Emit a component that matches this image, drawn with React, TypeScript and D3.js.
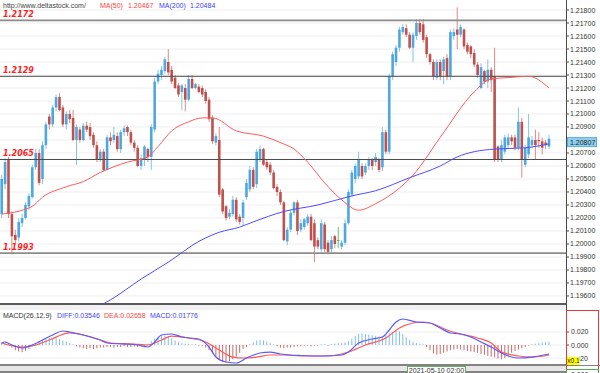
import * as d3 from 'd3'

// EUR/USD candles (index = bar number, left to right)
const opens = [
  1.2023, 1.2046, 1.2065, 1.2023, 1.2007, 1.2005, 1.2016, 1.2020, 1.2029, 1.2036,
  1.2059, 1.2070, 1.2050, 1.2076, 1.2098, 1.2092, 1.2105, 1.2113, 1.2105, 1.2092,
  1.2100, 1.2097, 1.2080, 1.2088, 1.2080, 1.2091, 1.2090, 1.2084, 1.2076, 1.2065,
  1.2071, 1.2057, 1.2082, 1.2080, 1.2083, 1.2073, 1.2086, 1.2090, 1.2086, 1.2078,
  1.2074, 1.2060, 1.2065, 1.2073, 1.2067, 1.2088, 1.2125, 1.2130, 1.2133, 1.2140,
  1.2134, 1.2128, 1.2122, 1.2117, 1.2120, 1.2111, 1.2127, 1.2120, 1.2121, 1.2120,
  1.2117, 1.2111, 1.2097, 1.2078, 1.2080, 1.2042, 1.2029, 1.2021, 1.2023, 1.2034,
  1.2021, 1.2020, 1.2036, 1.2042, 1.2057, 1.2046, 1.2065, 1.2073, 1.2063, 1.2061,
  1.2055, 1.2044, 1.2040, 1.2032, 1.2002, 1.2011, 1.2024, 1.2032, 1.2011, 1.2013,
  1.2016, 1.2021, 1.2016, 1.2003, 1.1996, 1.2015, 1.2001, 1.1996, 1.2006, 1.2003,
  1.1998, 1.2001, 1.2016, 1.2038, 1.2050, 1.2052, 1.2060, 1.2055, 1.2060, 1.2065,
  1.2063, 1.2065, 1.2059, 1.2086, 1.2071, 1.2129, 1.2140, 1.2151, 1.2163, 1.2166,
  1.2161, 1.2151, 1.2160, 1.2170, 1.2169, 1.2159, 1.2146, 1.2140, 1.2128, 1.2140,
  1.2133, 1.2143, 1.2129, 1.2160, 1.2165, 1.2161, 1.2165, 1.2153, 1.2152, 1.2147,
  1.2138, 1.2120, 1.2133, 1.2125, 1.2134, 1.2129, 1.2075, 1.2065, 1.2071, 1.2076,
  1.2082, 1.2082, 1.2074, 1.2094, 1.2061, 1.2069, 1.2076, 1.2080, 1.2080, 1.2079,
  1.2078, 1.2075,
]
const highs = [
  1.2053, 1.2066, 1.2067, 1.2025, 1.2011, 1.2020, 1.2023, 1.2032, 1.2039, 1.2061,
  1.2073, 1.2073, 1.2079, 1.2094, 1.2100, 1.2107, 1.2115, 1.2116, 1.2107, 1.2102,
  1.2103, 1.2103, 1.2092, 1.2090, 1.2093, 1.2094, 1.2093, 1.2086, 1.2079, 1.2073,
  1.2073, 1.2084, 1.2086, 1.2090, 1.2086, 1.2088, 1.2091, 1.2091, 1.2088, 1.2080,
  1.2076, 1.2069, 1.2076, 1.2074, 1.2092, 1.2128, 1.2134, 1.2137, 1.2144, 1.2150,
  1.2137, 1.2130, 1.2124, 1.2123, 1.2123, 1.2130, 1.2130, 1.2124, 1.2123, 1.2122,
  1.2119, 1.2113, 1.2099, 1.2085, 1.2090, 1.2043, 1.2030, 1.2027, 1.2037, 1.2036,
  1.2023, 1.2034, 1.2050, 1.2060, 1.2059, 1.2073, 1.2076, 1.2074, 1.2065, 1.2063,
  1.2057, 1.2046, 1.2042, 1.2033, 1.2013, 1.2026, 1.2033, 1.2034, 1.2019, 1.2020,
  1.2023, 1.2023, 1.2019, 1.2005, 1.2019, 1.2017, 1.2003, 1.2006, 1.2007, 1.2013,
  1.2003, 1.2019, 1.2042, 1.2057, 1.2062, 1.2071, 1.2062, 1.2062, 1.2067, 1.2066,
  1.2070, 1.2066, 1.2090, 1.2088, 1.2131, 1.2148, 1.2153, 1.2167, 1.2169, 1.2169,
  1.2163, 1.2163, 1.2173, 1.2173, 1.2173, 1.2161, 1.2147, 1.2142, 1.2142, 1.2142,
  1.2144, 1.2146, 1.2165, 1.2166, 1.2182, 1.2169, 1.2166, 1.2155, 1.2153, 1.2150,
  1.2140, 1.2139, 1.2134, 1.2142, 1.2136, 1.2151, 1.2076, 1.2080, 1.2084, 1.2085,
  1.2084, 1.2084, 1.2105, 1.2097, 1.2076, 1.2100, 1.2083, 1.2088, 1.2086, 1.2082,
  1.2080, 1.2084,
]
const lows = [
  1.2020, 1.2042, 1.2020, 1.1992, 1.2000, 1.2002, 1.2013, 1.2019, 1.2026, 1.2035,
  1.2057, 1.2045, 1.2046, 1.2073, 1.2088, 1.2090, 1.2102, 1.2102, 1.2090, 1.2088,
  1.2093, 1.2079, 1.2061, 1.2078, 1.2079, 1.2086, 1.2080, 1.2074, 1.2063, 1.2063,
  1.2056, 1.2056, 1.2076, 1.2078, 1.2071, 1.2070, 1.2083, 1.2083, 1.2076, 1.2071,
  1.2059, 1.2057, 1.2060, 1.2063, 1.2057, 1.2086, 1.2123, 1.2126, 1.2131, 1.2130,
  1.2123, 1.2119, 1.2113, 1.2103, 1.2102, 1.2110, 1.2119, 1.2119, 1.2116, 1.2113,
  1.2108, 1.2094, 1.2077, 1.2076, 1.2036, 1.2023, 1.2018, 1.2019, 1.2021, 1.2017,
  1.2015, 1.2014, 1.2034, 1.2040, 1.2042, 1.2043, 1.2063, 1.2060, 1.2057, 1.2053,
  1.2042, 1.2037, 1.2030, 1.2002, 1.1999, 1.2009, 1.2022, 1.2007, 1.2009, 1.2011,
  1.2014, 1.2002, 1.1986, 1.1996, 1.1994, 1.1994, 1.1992, 1.1993, 1.1997, 1.1997,
  1.1996, 1.1999, 1.2015, 1.2036, 1.2047, 1.2050, 1.2050, 1.2053, 1.2057, 1.2057,
  1.2060, 1.2055, 1.2056, 1.2069, 1.2069, 1.2126, 1.2137, 1.2148, 1.2161, 1.2159,
  1.2150, 1.2140, 1.2157, 1.2161, 1.2155, 1.2143, 1.2138, 1.2126, 1.2126, 1.2126,
  1.2123, 1.2126, 1.2126, 1.2157, 1.2150, 1.2159, 1.2150, 1.2146, 1.2143, 1.2136,
  1.2128, 1.2119, 1.2123, 1.2120, 1.2117, 1.2063, 1.2063, 1.2063, 1.2069, 1.2074,
  1.2076, 1.2072, 1.2072, 1.2051, 1.2059, 1.2066, 1.2074, 1.2065, 1.2074, 1.2069,
  1.2073, 1.2073,
]
const closes = [
  1.2050, 1.2063, 1.2023, 1.2006, 1.2003, 1.2017, 1.2020, 1.2030, 1.2037, 1.2059,
  1.2070, 1.2047, 1.2076, 1.2092, 1.2092, 1.2105, 1.2113, 1.2103, 1.2092, 1.2100,
  1.2096, 1.2080, 1.2090, 1.2080, 1.2091, 1.2088, 1.2083, 1.2076, 1.2065, 1.2071,
  1.2057, 1.2082, 1.2079, 1.2084, 1.2073, 1.2086, 1.2089, 1.2086, 1.2078, 1.2074,
  1.2060, 1.2066, 1.2075, 1.2067, 1.2090, 1.2125, 1.2131, 1.2134, 1.2142, 1.2132,
  1.2125, 1.2120, 1.2115, 1.2122, 1.2111, 1.2127, 1.2120, 1.2123, 1.2117, 1.2115,
  1.2110, 1.2096, 1.2079, 1.2083, 1.2038, 1.2025, 1.2020, 1.2024, 1.2034, 1.2019,
  1.2017, 1.2032, 1.2047, 1.2057, 1.2044, 1.2071, 1.2073, 1.2061, 1.2059, 1.2055,
  1.2043, 1.2040, 1.2032, 1.2003, 1.2011, 1.2024, 1.2032, 1.2010, 1.2016, 1.2019,
  1.2021, 1.2003, 1.1998, 1.1998, 1.2016, 1.1996, 1.1994, 1.2003, 1.2000, 1.2003,
  1.2001, 1.2016, 1.2040, 1.2055, 1.2060, 1.2065, 1.2052, 1.2060, 1.2065, 1.2060,
  1.2067, 1.2057, 1.2086, 1.2071, 1.2129, 1.2146, 1.2151, 1.2165, 1.2167, 1.2161,
  1.2151, 1.2161, 1.2170, 1.2163, 1.2157, 1.2146, 1.2140, 1.2129, 1.2140, 1.2129,
  1.2142, 1.2129, 1.2163, 1.2163, 1.2161, 1.2167, 1.2152, 1.2148, 1.2146, 1.2138,
  1.2130, 1.2136, 1.2125, 1.2134, 1.2126, 1.2065, 1.2065, 1.2076, 1.2082, 1.2082,
  1.2079, 1.2074, 1.2094, 1.2065, 1.2074, 1.2082, 1.2080, 1.2076, 1.2079, 1.2074,
  1.2076, 1.2081,
]

// moving averages, sampled along the curves
const ma50At = [0, 9, 12, 19, 24, 29, 37, 43, 46, 50, 55, 59, 62, 69, 77, 82, 86, 90, 95, 100, 105, 110, 117, 121, 129, 139, 144, 149, 155, 161]
const ma50 = [1.2023, 1.2029, 1.2036, 1.2044, 1.2048, 1.2055, 1.2063, 1.2067, 1.2075, 1.2087, 1.2094, 1.2097, 1.2097, 1.2087, 1.2083, 1.2078, 1.2073, 1.2063, 1.2047, 1.2034, 1.2026, 1.2031, 1.2043, 1.2053, 1.2082, 1.2117, 1.2127, 1.2128, 1.2129, 1.2120]
const ma200At = [27, 32, 41, 49, 58, 64, 70, 74, 83, 93, 103, 110, 120, 129, 134, 139, 145, 154, 161]
const ma200 = [1.1950, 1.1957, 1.1973, 1.1986, 1.2002, 1.2009, 1.2013, 1.2017, 1.2025, 1.2030, 1.2037, 1.2041, 1.2051, 1.2060, 1.2067, 1.2071, 1.2073, 1.2074, 1.2077]

// MACD panel
const diffAt = [0, 1, 3, 6, 9, 12, 15, 18, 20, 24, 29, 31, 36, 40, 43, 45, 47, 50, 53, 58, 61, 63, 66, 69, 72, 76, 79, 82, 85, 88, 94, 100, 102, 105, 109, 112, 114, 116, 118, 122, 126, 129, 132, 135, 138, 141, 144, 147, 150, 152, 156, 161]
const diff = [0.0031, 0.0046, 0, -0.0046, 0, 0.0077, 0.0154, 0.0215, 0.0200, 0.0154, 0.0077, 0.0031, 0.0015, 0, -0.0031, 0.0046, 0.0154, 0.0169, 0.0123, 0.0092, -0.0031, -0.0185, -0.0261, -0.0277, -0.0200, -0.0123, -0.0108, -0.0138, -0.0154, -0.0161, -0.0169, -0.0154, -0.0108, 0.0031, 0.0092, 0.0123, 0.0231, 0.0354, 0.0400, 0.0354, 0.0338, 0.0261, 0.0185, 0.0169, 0.0123, 0.0046, -0.0031, -0.0123, -0.0185, -0.0200, -0.0185, -0.0138]
const deaAt = [0, 2, 6, 9, 14, 20, 24, 29, 32, 39, 43, 47, 50, 55, 60, 64, 68, 71, 75, 79, 83, 88, 96, 102, 107, 113, 117, 121, 124, 127, 131, 135, 140, 144, 147, 152, 156, 161]
const dea = [0.0031, 0, -0.0031, -0.0015, 0.0077, 0.0185, 0.0154, 0.0077, 0.0031, 0.0015, 0, 0.0077, 0.0138, 0.0108, 0.0046, -0.0077, -0.0185, -0.0200, -0.0185, -0.0154, -0.0154, -0.0169, -0.0169, -0.0108, 0, 0.0108, 0.0261, 0.0338, 0.0354, 0.0323, 0.0231, 0.0169, 0.0108, 0.0031, -0.0108, -0.0169, -0.0185, -0.0154]
const macdHist = [
  0.004, 0.003, 0.001, -0.004, -0.008, -0.010, -0.011, -0.009, -0.006, -0.002,
  0.003, 0.006, 0.008, 0.010, 0.011, 0.010, 0.011, 0.009, 0.007, 0.005,
  0.003, 0.001, -0.002, -0.004, -0.005, -0.006, -0.005, -0.006, -0.005, -0.004,
  -0.004, -0.003, -0.003, -0.004, -0.003, -0.003, -0.002, -0.003, -0.003, -0.002,
  -0.003, -0.002, -0.001, 0.002, 0.006, 0.010, 0.013, 0.015, 0.014, 0.012,
  0.010, 0.007, 0.005, 0.003, 0.002, 0.002, 0.001, 0.001, -0.001, -0.002,
  -0.004, -0.008, -0.013, -0.018, -0.022, -0.026, -0.027, -0.025, -0.022, -0.018,
  -0.012, -0.006, -0.003, 0.001, 0.004, 0.007, 0.008, 0.007, 0.005, 0.003,
  0.001, -0.002, -0.004, -0.005, -0.004, -0.004, -0.003, -0.002, -0.002, -0.001,
  -0.001, -0.002, -0.001, -0.001, 0.001, 0.001, -0.001, 0.001, 0.002, 0.003,
  0.003, 0.004, 0.006, 0.010, 0.014, 0.017, 0.018, 0.017, 0.016, 0.015,
  0.014, 0.013, 0.014, 0.016, 0.018, 0.020, 0.022, 0.021, 0.017, 0.012,
  0.008, 0.005, 0.003, 0.002, 0.001, -0.003, -0.008, -0.013, -0.015, -0.014,
  -0.012, -0.010, -0.008, -0.007, -0.006, -0.007, -0.008, -0.009, -0.010, -0.011,
  -0.012, -0.014, -0.015, -0.017, -0.018, -0.019, -0.021, -0.022, -0.020, -0.016,
  -0.012, -0.009, -0.007, -0.005, -0.003, -0.001, 0.001, 0.002, 0.003, 0.004,
  0.004, 0.005,
]

const levels = [1.2172, 1.2129, 1.2065, 1.1993]
const heavyLevels = [1.2172, 1.1993]
const priceTicks = [
  1.218, 1.217, 1.216, 1.215, 1.214, 1.213, 1.212, 1.211, 1.21, 1.209, 1.208, 1.207,
  1.206, 1.205, 1.204, 1.203, 1.202, 1.201, 1.2, 1.199, 1.198, 1.197, 1.196,
]
const macdTicks = [0.02, 0, -0.02]
const lastPrice = 1.20807

const FONT = '"Liberation Sans", Arial, sans-serif'

export default function App() {
  const width = 600
  const height = 373
  const plotW = 566
  const mainBottom = 303

  const x = d3.scaleLinear().domain([-0.5, 166]).range([0, plotW])
  const y = d3.scaleLinear().domain([1.19546, 1.21877]).range([mainBottom, 0])
  const ym = d3.scaleLinear().domain([-0.0292, 0.0615]).range([364, 305])

  const priceLine = d3
    .line<[number, number]>()
    .x(d => x(d[0]))
    .y(d => y(d[1]))
    .curve(d3.curveMonotoneX)
  const macdLine = d3
    .line<[number, number]>()
    .x(d => x(d[0]))
    .y(d => ym(d[1]))
    .curve(d3.curveMonotoneX)

  const pairs = (at: number[], vals: number[]) => at.map((a, i) => [a, vals[i]] as [number, number])
  const bodyW = 2.6
  const lastY = y(lastPrice) + 3 // price box sits just under the last close
  // the axis hides the tick label the price box sits on
  const shownTicks = priceTicks.filter(t => Math.abs(y(t) - lastY) > 6)

  return (
    <svg
      width={width}
      height={height}
      style={{ position: 'absolute', left: 0, top: 0 }}
      fontFamily={FONT}
    >
      <defs>
        <clipPath id="main-clip">
          <rect x={0} y={0} width={plotW} height={mainBottom} />
        </clipPath>
        <clipPath id="macd-clip">
          <rect x={0} y={305} width={plotW} height={59} />
        </clipPath>
        <clipPath id="scale-clip">
          <rect x={579.5} y={350} width={20} height={15} />
        </clipPath>
      </defs>
      <rect width={width} height={height} fill="#fff" />

      {/* price grid */}
      {priceTicks.map(t => (
        <line key={t} x1={0} x2={plotW} y1={y(t)} y2={y(t)} stroke="#eeeeee" />
      ))}

      <g clipPath="url(#main-clip)">
        {/* candles */}
        {closes.map((c, i) => {
          const o = opens[i]
          const doji = c === o
          const up = c > o
          const body = doji ? '#5cb85c' : up ? '#4ea8df' : '#c0504d'
          const wick = doji ? '#6cbf6c' : up ? '#86c4ea' : '#d98a87'
          const cx = x(i)
          const top = y(Math.max(o, c))
          const h = Math.max(1, Math.abs(y(o) - y(c)))
          return (
            <g key={i}>
              <line x1={cx} x2={cx} y1={y(highs[i])} y2={y(lows[i])} stroke={wick} strokeWidth={1} />
              <rect x={cx - bodyW / 2} y={top} width={bodyW} height={h} fill={body} />
            </g>
          )
        })}

        {/* support / resistance */}
        {levels.map(l => {
          const heavy = heavyLevels.includes(l)
          return (
            <line
              key={l}
              x1={0}
              x2={plotW}
              y1={y(l)}
              y2={y(l)}
              stroke={heavy ? '#8c8c8c' : '#4a4a4a'}
              strokeWidth={heavy ? 1.6 : 1}
            />
          )
        })}

        {/* moving averages */}
        <path d={priceLine(pairs(ma50At, ma50)) || ''} fill="none" stroke="#ff5a5a" strokeWidth={1} />
        <path d={priceLine(pairs(ma200At, ma200)) || ''} fill="none" stroke="#4c4cff" strokeWidth={1} />
      </g>

      {/* level labels */}
      {levels.map(l => (
        <text
          key={l}
          x={3}
          y={y(l) - 3}
          fontFamily='"DejaVu Sans", Verdana, sans-serif'
          fontSize={8}
          fontWeight="bold"
          fontStyle="italic"
          fill="#ff1f1f"
        >
          {l.toFixed(4)}
        </text>
      ))}

      {/* header */}
      <text x={3} y={7.5} fontSize={7} fill="#444">http://www.deltastock.com/</text>
      <text x={100} y={7.5} fontSize={7} fill="#ff4040">MA(50)</text>
      <text x={128} y={7.5} fontSize={7} fill="#ff4040">1.20467</text>
      <text x={159} y={7.5} fontSize={7} fill="#4040ff">MA(200)</text>
      <text x={190} y={7.5} fontSize={7} fill="#4040ff">1.20484</text>

      {/* panel separator */}
      <line x1={0} x2={plotW} y1={304} y2={304} stroke="#5a5a5a" strokeWidth={2} />
      <rect x={0} y={305} width={plotW} height={5} fill="#f1f1f1" />

      {/* MACD panel */}
      {macdTicks.map(t => (
        <line key={t} x1={0} x2={plotW} y1={ym(t)} y2={ym(t)} stroke="#eeeeee" />
      ))}
      <g clipPath="url(#macd-clip)">
        {macdHist.map((v, i) => (
          <line
            key={i}
            x1={x(i)}
            x2={x(i)}
            y1={ym(0)}
            y2={ym(v)}
            stroke={v >= 0 ? '#7fbfe3' : '#c46b6b'}
            strokeWidth={1}
          />
        ))}
        <path d={macdLine(pairs(deaAt, dea)) || ''} fill="none" stroke="#ff5a5a" strokeWidth={1.2} />
        <path d={macdLine(pairs(diffAt, diff)) || ''} fill="none" stroke="#5a5aff" strokeWidth={1.2} />
      </g>
      <text x={3} y={317.5} fontSize={7} fill="#333">MACD(26.12.9)</text>
      <text x={57} y={317.5} fontSize={7} fill="#4444ff">DIFF:0.03546</text>
      <text x={104} y={317.5} fontSize={7} fill="#ff4444">DEA:0.02658</text>
      <text x={150} y={317.5} fontSize={7} fill="#4444ff">MACD:0.01776</text>

      {/* time strip */}
      <line x1={0} x2={width} y1={365} y2={365} stroke="#5a5a5a" strokeWidth={1.5} />
      <rect x={0} y={366} width={plotW} height={5} fill="#e6e6e6" />
      <line x1={0} x2={plotW} y1={372} y2={372} stroke="#5a5a5a" strokeWidth={1.5} />
      <rect x={407.5} y={366.5} width={58} height={9} fill="#fff" stroke="#6aa86a" />
      <text x={436.5} y={372.5} fontSize={7} fill="#333" textAnchor="middle">2021-05-10 02:00</text>

      {/* right axis */}
      <rect x={plotW} y={0} width={width - plotW} height={365} fill="#fff" />
      <line x1={plotW + 0.5} x2={plotW + 0.5} y1={0} y2={366} stroke="#4a4a4a" />
      {priceTicks.map(t => (
        <line key={t} x1={plotW} x2={plotW + 3} y1={y(t)} y2={y(t)} stroke="#4a4a4a" />
      ))}
      {shownTicks.map(t => (
        <text key={t} x={570} y={y(t) + 2.5} fontSize={7} fill="#333">{t.toFixed(5)}</text>
      ))}
      <rect x={567.5} y={lastY - 4.5} width={29} height={9} fill="#8fd0f0" stroke="#5aaed8" />
      <text x={570} y={lastY + 2.5} fontSize={7} fill="#222">{lastPrice.toFixed(5)}</text>

      {macdTicks.map(t => (
        <line key={t} x1={plotW} x2={plotW + 3} y1={ym(t)} y2={ym(t)} stroke="#4a4a4a" />
      ))}
      {macdTicks.filter(t => t >= 0).map(t => (
        <text key={t} x={571} y={ym(t) + 2.5} fontSize={7} fill="#333">{t.toFixed(3)}</text>
      ))}
      {/* the lowest MACD label is mostly covered by the scale badge */}
      {macdTicks.filter(t => t < 0).map(t => (
        <text key={t} x={568} y={ym(t) + 2.5} fontSize={7} fill="#333" clipPath="url(#scale-clip)">
          {t.toFixed(3)}
        </text>
      ))}
      <rect x={566.5} y={357} width={13} height={8} fill="#ffff00" />
      <text x={567.3} y={363.3} fontSize={6.5} fill="#222">x0.1</text>
      <rect x={566.5} y={310.5} width={32} height={59} fill="none" stroke="#e53935" />
      <rect x={566.5} y={369.5} width={32} height={10} fill="#fff" stroke="#4caf50" />
      <text x={571} y={377} fontSize={7} fill="#333">0.000</text>
    </svg>
  )
}
